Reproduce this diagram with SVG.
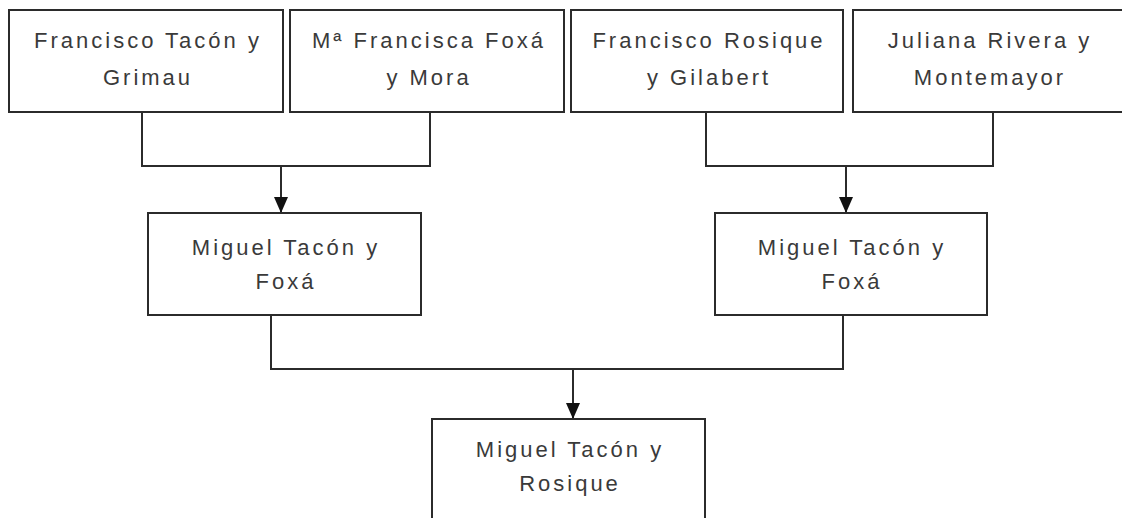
<svg xmlns="http://www.w3.org/2000/svg" width="1122" height="518" viewBox="0 0 1122 518">
<style>
.box{fill:#fff;stroke:#2b2b2b;stroke-width:2}
.lbl{font-family:"Liberation Sans","DejaVu Sans",sans-serif;font-size:22px;fill:#3a3a3a;text-anchor:middle;letter-spacing:3px}
.con{fill:none;stroke:#2b2b2b;stroke-width:2}
</style>
<defs>
<marker id="arr" viewBox="0 0 16 14" refX="16" refY="7" markerWidth="16" markerHeight="14" markerUnits="userSpaceOnUse" orient="auto">
<path d="M0,0 L16,7 L0,14 z" fill="#111"/>
</marker>
</defs>
<rect width="1122" height="518" fill="#fff"/>
<g id="connectors">
<path class="con" d="M142,112 V166 H430 V112"/>
<path class="con" d="M281,166 V213" marker-end="url(#arr)"/>
<path class="con" d="M706,112 V166 H993 V112"/>
<path class="con" d="M846,166 V213" marker-end="url(#arr)"/>
<path class="con" d="M271,315 V369 H843 V315"/>
<path class="con" d="M573,369 V419" marker-end="url(#arr)"/>
</g>
<g id="n1"><rect class="box" x="9" y="10" width="274" height="102"/>
<text class="lbl" x="148" y="48">Francisco Tacón y</text><text class="lbl" x="148" y="85">Grimau</text></g>
<g id="n2"><rect class="box" x="290" y="10" width="274" height="102"/>
<text class="lbl" x="429" y="48">Mª Francisca Foxá</text><text class="lbl" x="429" y="85">y Mora</text></g>
<g id="n3"><rect class="box" x="571" y="10" width="272" height="102"/>
<text class="lbl" x="709" y="48">Francisco Rosique</text><text class="lbl" x="709" y="85">y Gilabert</text></g>
<g id="n4"><rect class="box" x="853" y="10" width="290" height="102"/>
<text class="lbl" x="990" y="48">Juliana Rivera y</text><text class="lbl" x="990" y="85">Montemayor</text></g>
<g id="n5"><rect class="box" x="148" y="213" width="273" height="102"/>
<text class="lbl" x="286" y="255">Miguel Tacón y</text><text class="lbl" x="286" y="289">Foxá</text></g>
<g id="n6"><rect class="box" x="715" y="213" width="272" height="102"/>
<text class="lbl" x="852" y="255">Miguel Tacón y</text><text class="lbl" x="852" y="289">Foxá</text></g>
<g id="n7"><rect class="box" x="432" y="419" width="273" height="110"/>
<text class="lbl" x="570" y="457">Miguel Tacón y</text><text class="lbl" x="570" y="491">Rosique</text></g>
</svg>
